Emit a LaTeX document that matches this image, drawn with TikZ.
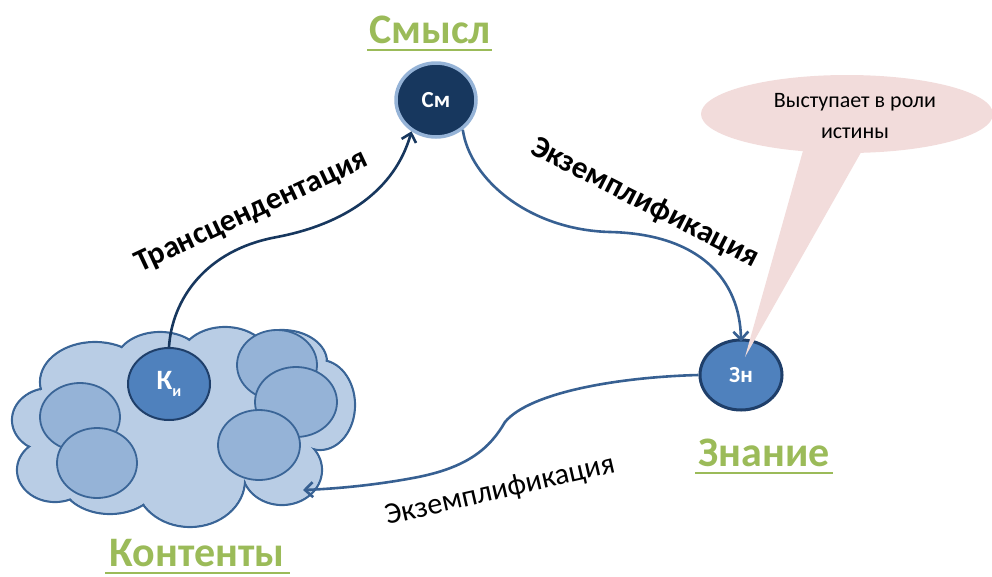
\documentclass[tikz,border=0pt]{standalone}
\usepackage{fontspec}
\setmainfont{Carlito}
\usetikzlibrary{arrows.meta,shapes.geometric}
\definecolor{titlegreen}{HTML}{9BBB59}
\definecolor{navy}{HTML}{17375E}
\definecolor{steel}{HTML}{376092}
\definecolor{cloudfill}{HTML}{B9CDE5}
\definecolor{cloudline}{HTML}{3A6597}
\definecolor{innerfill}{HTML}{95B3D7}
\definecolor{midblue}{HTML}{4F81BD}
\definecolor{ringblue}{HTML}{95B3D7}
\definecolor{darkring}{HTML}{1F3F6A}
\definecolor{pinkfill}{HTML}{F2DCDB}
\begin{document}
\begin{tikzpicture}[x=1pt,y=-1pt,
  titletext/.style={text=titlegreen,font=\fontsize{42}{46}\selectfont\bfseries,inner sep=0pt},
  titleline/.style={titlegreen,line width=2.5pt},
  lobe/.style={draw=cloudline,line width=2.2pt,fill=cloudfill},
  lobefill/.style={fill=cloudfill},
  innercirc/.style={draw=cloudline,line width=1.8pt,fill=innerfill},
  conn/.style={line width=2.6pt,-{Straight Barb[length=8pt,width=15pt,line width=2.6pt]}},
  nodetext/.style={text=white,font=\fontsize{23}{25}\selectfont\bfseries},
  arclabel/.style={font=\fontsize{31}{34}\selectfont\bfseries,text=black},
]
\useasboundingbox (0,0) rectangle (992,576);

% ---- cloud ----
\foreach \cx/\cy/\rx/\ry in {50/420/38/32, 95/382/55/40, 160/364/45/32, 225/360/45/33, 282/362/45/32, 320/405/35/45, 282/470/40/35, 190/480/55/47, 110/478/50/36, 55/470/38/32}
  \path[lobe] (\cx,\cy) ellipse [x radius=\rx, y radius=\ry];
\foreach \cx/\cy/\rx/\ry in {50/420/38/32, 95/382/55/40, 160/364/45/32, 225/360/45/33, 282/362/45/32, 320/405/35/45, 282/470/40/35, 190/480/55/47, 110/478/50/36, 55/470/38/32}
  \path[lobefill] (\cx,\cy) ellipse [x radius=\rx-1.3, y radius=\ry-1.3];
\path[lobefill] (180,425) ellipse [x radius=135, y radius=62];

\path[innercirc] (80,417) ellipse [x radius=40, y radius=34];
\path[innercirc] (97,463) ellipse [x radius=40, y radius=35];
\path[innercirc] (277,365) ellipse [x radius=40, y radius=35];
\path[innercirc] (296,402) ellipse [x radius=41, y radius=35];
\path[innercirc] (259,445) ellipse [x radius=41, y radius=35];

% ---- nodes ----
\node[ellipse,draw=darkring,line width=2pt,fill=midblue,minimum width=82pt,minimum height=72pt,inner sep=0pt,nodetext] (ki) at (169,384) {\fontsize{28}{30}\selectfont К\raisebox{-7pt}{\fontsize{16}{18}\selectfont и}};
\node[ellipse,draw=ringblue,line width=3.5pt,fill=navy,minimum width=80pt,minimum height=74pt,inner sep=0pt,nodetext] (cm) at (436,100) {См};
\node[ellipse,draw=darkring,line width=3pt,fill=midblue,minimum width=82pt,minimum height=70pt,inner sep=0pt,nodetext] (zn) at (741,375) {Зн};

% ---- titles ----
\node[titletext,anchor=base] (tsm) at (430,43) {Смысл};
\draw[titleline] (367,50) -- (492,50);
\node[titletext,anchor=base] (tzn) at (764,466) {Знание};
\draw[titleline] (695,473) -- (833,473);
\node[titletext,anchor=base] (tko) at (197,566) {Контенты};
\draw[titleline] (105,573) -- (290,573);

% ---- connectors ----
\draw[conn,navy] (ki.north) .. controls (172,300) and (205,250) .. (277,237)
  .. controls (345,224) and (395,190) .. (cm.232);
\draw[conn,steel] (cm.-48) .. controls (470,180) and (530,230) .. (610,232)
  .. controls (700,234) and (740,280) .. ([yshift=-3pt]zn.north);
\coordinate (ctip) at (303,490);
\draw[conn,steel] (zn.west) .. controls (620,377) and (530,392) .. (505,422)
  .. controls (490,448) and (468,468) .. (413,478)
  .. controls (370,486) and (330,489) .. (ctip);

% ---- labels ----
\node[arclabel,rotate=25] (lt) at (252,212) {Трансцендентация};
\node[arclabel,rotate=-27] (le) at (645,203) {Экземплификация};
\node[font=\fontsize{30}{32}\selectfont,text=black,rotate=13] (lb) at (500,491) {Экземплификация};

% ---- callout ----
\coordinate (ctail) at (745,357);
\node[ellipse,fill=pinkfill,minimum width=292pt,minimum height=78pt,inner sep=0pt] (bub) at (847,114) {};
\fill[pinkfill] (806,140) -- (868,140) -- (ctail) -- cycle;
\node[align=center,font=\fontsize{22}{31}\selectfont,text=black] (btext) at (855,116) {Выступает в роли\\истины};
\end{tikzpicture}
\end{document}
